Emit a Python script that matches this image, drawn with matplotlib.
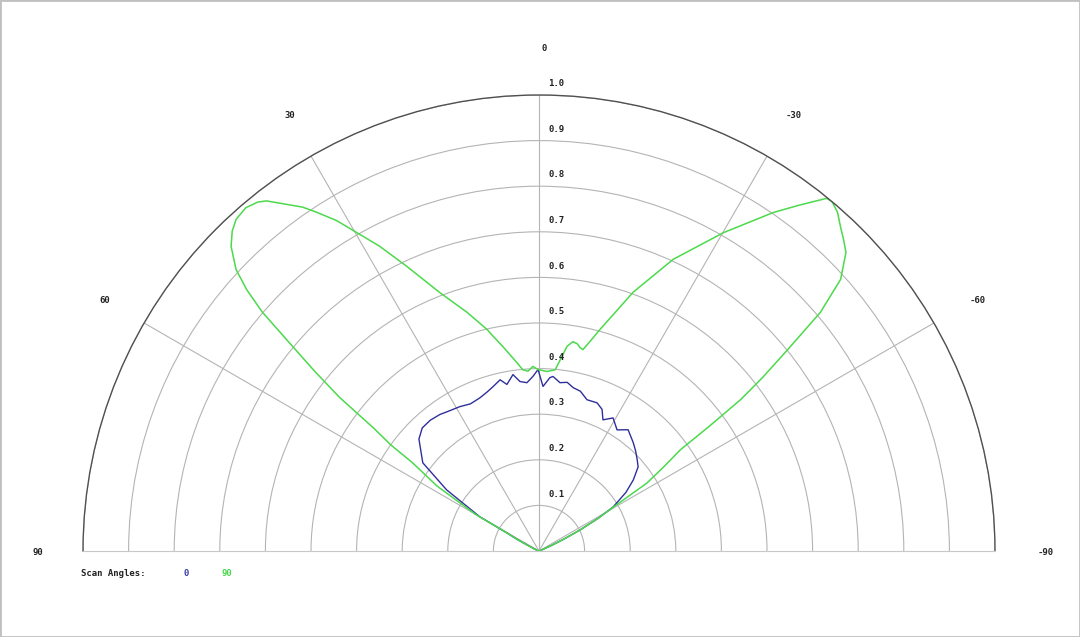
import numpy as np
import matplotlib.pyplot as plt
from matplotlib.patches import Rectangle

# scan angle 0 (blue), angle in degrees, normalised intensity
theta_0 = [90, 70, 66, 64, 62, 60.6, 60.0, 56.5, 52.8, 47.0, 43.5, 39.8, 36.0, 33.5,
           28.7, 25.0, 21.1, 18.0, 15.7, 12.8, 10.9, 8.4, 6.4, 4.1, 2.0, 0.3, -1.4,
           -3.6, -4.6, -7.1, -9.5, -11.8, -14.5, -17.6, -21.4, -24.0, -26.0, -29.1,
           -32.8, -36.3, -41.0, -44.0, -47.1, -49.7, -53.0, -56.0, -59.3, -61.0,
           -62.9, -64.5, -66.0, -70, -90]
r_0 = [0, 0.005, 0.01, 0.02, 0.055, 0.081, 0.150, 0.243, 0.320, 0.360, 0.372, 0.373,
       0.370, 0.366, 0.361, 0.356, 0.360, 0.367, 0.374, 0.385, 0.372, 0.391, 0.374,
       0.370, 0.383, 0.398, 0.361, 0.381, 0.384, 0.372, 0.375, 0.366, 0.362, 0.348,
       0.349, 0.340, 0.320, 0.334, 0.316, 0.330, 0.315, 0.305, 0.294, 0.285, 0.259,
       0.230, 0.189, 0.150, 0.101, 0.060, 0.030, 0.005, 0]

# scan angle 90 (green)
theta_90 = [90, 70, 66, 64, 62, 60.6, 60.0, 57.5, 55.1, 54.4, 53.4, 52.4, 51.3, 50.3,
            49.2, 48.2, 47.1, 45.3, 43.8, 42.4, 40.5, 38.9, 37.9, 36.1, 34.5, 33.3,
            31.5, 29.8, 27.6, 24.9, 21.0, 16.8, 13.2, 12.3, 10.0, 6.7, 5.1, 3.5, 1.9,
            0.3, -2.6, -5.1, -6.5, -7.8, -9.2, -10.5, -11.4, -12.3, -13.5, -15.4,
            -20.0, -24.7, -30.1, -34.7, -37.0, -39.2, -40.0, -41.4, -43.0, -44.3,
            -45.8, -48.0, -49.7, -51.0, -52.2, -53.1, -53.8, -54.4, -56.0, -57.8,
            -59.3, -61.0, -62.9, -64.5, -66.0, -70, -90]
r_90 = [0, 0.005, 0.01, 0.02, 0.055, 0.081, 0.160, 0.265, 0.338, 0.400, 0.450, 0.552,
        0.630, 0.702, 0.801, 0.860, 0.907, 0.950, 0.972, 0.985, 0.990, 0.983, 0.973,
        0.941, 0.915, 0.889, 0.850, 0.805, 0.754, 0.688, 0.607, 0.547, 0.499, 0.485,
        0.455, 0.416, 0.399, 0.395, 0.405, 0.398, 0.394, 0.399, 0.425, 0.453, 0.465,
        0.462, 0.455, 0.452, 0.470, 0.504, 0.604, 0.704, 0.807, 0.903, 0.950, 0.998,
        1.000, 0.990, 0.970, 0.956, 0.939, 0.890, 0.809, 0.702, 0.620, 0.553, 0.460,
        0.381, 0.330, 0.280, 0.195, 0.150, 0.101, 0.060, 0.030, 0.005, 0]

angle_ticks = [-90, -60, -30, 0, 30, 60, 90]
r_ticks = [0.1, 0.2, 0.3, 0.4, 0.5, 0.6, 0.7, 0.8, 0.9, 1.0]

font = dict(family='DejaVu Sans Mono', fontsize=6.5, weight='bold', color='#222222')

W, H = 1080, 637
fig = plt.figure(figsize=(10.8, 6.37), dpi=100)
# polar axes are kept square, so give a square box; the half disc sits in its middle
ax = fig.add_axes([83 / W, -142 / H, 912 / W, 912 / H], projection='polar')
ax.set_theta_zero_location('N')
ax.set_theta_direction(1)
ax.set_thetamin(-90)
ax.set_thetamax(90)
ax.set_ylim(0, 1)

ax.set_rticks(r_ticks)
ax.set_yticklabels([])
ax.set_thetagrids([-60, -30, 0, 30, 60], labels=[''] * 5)
ax.grid(color='#b4b4b4', lw=0.8)
ax.spines['polar'].set_color('#505050')
ax.spines['polar'].set_linewidth(1.0)
ax.spines['start'].set_color('#c8c8c8')
ax.spines['end'].set_color('#c8c8c8')

ax.plot(np.radians(theta_0), r_0, color='#2f2f9c', lw=1.0)
ax.plot(np.radians(theta_90), r_90, color='#4cd94c', lw=1.1)

# ring labels along the 0 spoke
for r in r_ticks:
    ax.annotate('%.1f' % r, xy=(0, r), xytext=(6.5, 8.2), textcoords='offset points',
                ha='left', va='center', **font)

# angle labels round the outside
for a in angle_ticks:
    dx = 3.6 if a == 0 else 1.8
    ax.annotate(str(a), xy=(np.radians(a), 1.105), xytext=(dx, -0.8),
                textcoords='offset points', ha='center', va='center',
                annotation_clip=False, **font)

# legend
fig.text(81 / W, 1 - 573 / H, 'Scan Angles:', ha='left', va='center', **font)
fig.text(183 / W, 1 - 573 / H, '0', ha='left', va='center',
         family='DejaVu Sans Mono', fontsize=6.5, weight='bold', color='#3a3aa8')
fig.text(221 / W, 1 - 573 / H, '90', ha='left', va='center',
         family='DejaVu Sans Mono', fontsize=6.5, weight='bold', color='#4cd94c')

fig.add_artist(Rectangle((0, 0), 1, 1, transform=fig.transFigure, fill=False,
                         edgecolor='#c0c0c0', lw=2))

fig.savefig('out.png', dpi=100)
